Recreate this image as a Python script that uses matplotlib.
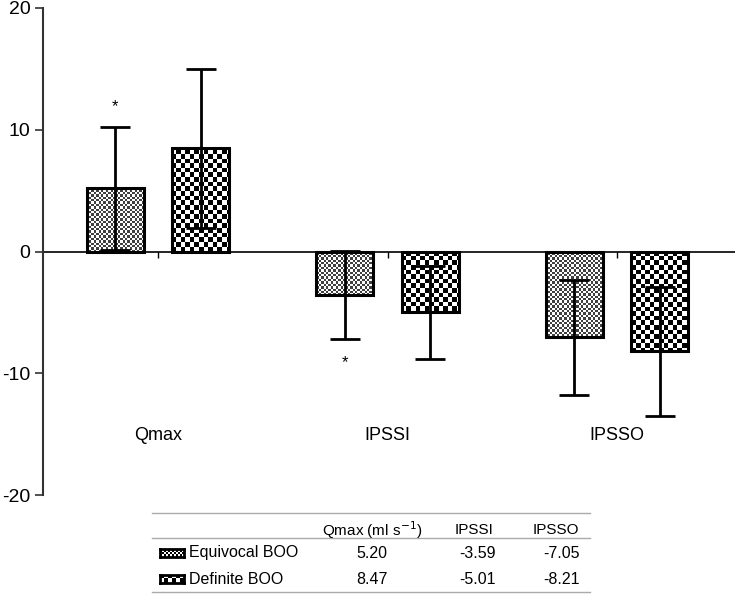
import numpy as np
import matplotlib
matplotlib.use("Agg")
import matplotlib.pyplot as plt
from matplotlib.lines import Line2D

plt.rcParams['font.family'] = ['Liberation Sans', 'DejaVu Sans']
plt.rcParams['axes.unicode_minus'] = False

# dados
categorias = ["Qmax", "IPSSI", "IPSSO"]
grupos = ["Equivocal BOO", "Definite BOO"]
equivoco = [5.20, -3.59, -7.05]
definido = [8.47, -5.01, -8.21]
erro_equivoco = [5.05, 3.6, 4.75]
erro_definido = [6.5, 3.8, 5.3]
cabecalho = ["Qmax (ml s$^{-1}$)", "IPSSI", "IPSSO"]
rotulos_tabela = [["5.20", "-3.59", "-7.05"], ["8.47", "-5.01", "-8.21"]]

W, H = 735, 595
fig = plt.figure(figsize=(W / 100, H / 100), dpi=100)
ax = fig.add_axes([43 / W, (H - 495) / H, 692 / W, 487 / H])

x = np.arange(len(categorias))
larg = 0.248
desl = 0.187


def xadrez(celula, escuro=0.0, claro=1.0):
    # tabuleiro em pixels cobrindo o eixo inteiro
    ny, nx = int(487 / celula) + 1, int(692 / celula) + 1
    yy, xx = np.mgrid[0:ny, 0:nx]
    img = np.where((xx + yy) % 2 == 0, escuro, claro)
    return img, nx * celula / 692, ny * celula / 487


padroes = [xadrez(2.4, 0.25, 1.0), xadrez(4.6, 0.0, 1.0)]

for k, (vals, errs) in enumerate([(equivoco, erro_equivoco), (definido, erro_definido)]):
    pos = x + (k * 2 - 1) * desl
    barras = ax.bar(pos, vals, width=larg, color="none", edgecolor="black",
                    linewidth=2.2, zorder=3)
    img, fx, fy = padroes[k]
    for b in barras:
        im = ax.imshow(img, cmap="gray", vmin=0, vmax=1, interpolation="nearest",
                       extent=(0, fx, 1 - fy, 1), transform=ax.transAxes,
                       aspect="auto", zorder=2)
        im.set_clip_path(b)
    ax.errorbar(pos, vals, yerr=errs, fmt="none", ecolor="black", elinewidth=2,
                capsize=11, capthick=2, zorder=4)

ax.set_xlim(-0.501, 2.514)
ax.set_ylim(-20, 20)
ax.axhline(0, color="black", linewidth=1.2, zorder=1)
ax.plot(x, np.zeros(len(x)), linestyle="none", marker=3, markersize=4,
        color="black", markeredgewidth=1)

for i, c in enumerate(categorias):
    ax.text(i, -15.1, c, ha="center", va="center", fontsize=13)

ax.text(-0.187, 11.9, "*", ha="center", va="center", fontsize=12)
ax.text(1 - 0.187, -9.1, "*", ha="center", va="center", fontsize=12)

for s in ["top", "right", "bottom"]:
    ax.spines[s].set_visible(False)
ax.spines["left"].set_color("#333333")
ax.spines["left"].set_linewidth(1.5)
ax.set_xticks([])
ax.set_yticks([-20, -10, 0, 10, 20])
ax.tick_params(axis="y", labelsize=14, length=6, width=1.2, color="#333333", pad=3)

# ---- tabela ----
def fy_(p):
    return 1 - p / H

for yy in [513, 538, 592]:
    fig.add_artist(Line2D([152 / W, 590 / W], [fy_(yy), fy_(yy)], color="#aaaaaa", lw=1))

for cx, t in zip([372, 474, 556], cabecalho):
    fig.text(cx / W, fy_(530), t, ha="center", va="center", fontsize=11)

linhas_y = [553, 579]
for r, (nome, vals) in enumerate(zip(grupos, rotulos_tabela)):
    fig.text(189 / W, fy_(linhas_y[r]), nome, ha="left", va="center", fontsize=11.5)
    for cx, v in zip([372, 477, 561], vals):
        fig.text(cx / W, fy_(linhas_y[r]), v, ha="center", va="center", fontsize=11.5)
    sw = fig.add_axes([160 / W, fy_(linhas_y[r] + 4), 24 / W, 8 / H])
    img = np.where((np.mgrid[0:3, 0:12].sum(axis=0) % 2) == 0, 0.0, 1.0) if r == 0 else \
        np.where((np.mgrid[0:2, 0:6].sum(axis=0) % 2) == 0, 0.0, 1.0)
    sw.imshow(img, cmap="gray", vmin=0, vmax=1, aspect="auto", interpolation="nearest")
    sw.set_xticks([])
    sw.set_yticks([])
    for s in sw.spines.values():
        s.set_linewidth(2)

fig.savefig("out.png", dpi=100)
